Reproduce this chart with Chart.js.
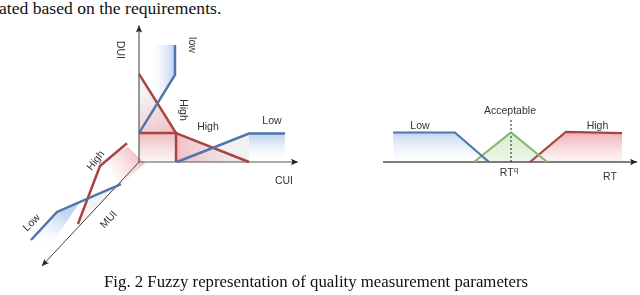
<!DOCTYPE html>
<html>
<head>
<meta charset="utf-8">
<script src="https://cdn.jsdelivr.net/npm/chart.js@4.4.0/dist/chart.umd.min.js"></script>
<style>
  html, body { margin: 0; padding: 0; background: #fff; width: 640px; height: 295px; overflow: hidden; position: relative; }
  canvas { position: absolute; }
  .t { position: absolute; font-family: "Liberation Serif", "Times New Roman", serif; font-size: 16.8px; line-height: 16px; color: #111; white-space: nowrap; }
  .l { position: absolute; font-family: "Liberation Sans", Arial, sans-serif; font-size: 10.5px; line-height: 12px; color: #333; white-space: nowrap; transform: translate(-50%, -50%); }
</style>
</head>
<body>
<div class="t" style="left:-1px;top:0px;font-size:17.6px">ated based on the requirements.</div>

<canvas id="left" width="300" height="260" style="left:0;top:20px"></canvas>
<canvas id="right" width="257" height="90" style="left:383px;top:100px"></canvas>

<!-- left diagram labels -->
<div class="l" style="left:121px;top:50px;transform:translate(-50%,-50%) rotate(90deg)">DUI</div>
<div class="l" style="left:193px;top:45px;transform:translate(-50%,-50%) rotate(90deg)">low</div>
<div class="l" style="left:183.5px;top:110px;transform:translate(-50%,-50%) rotate(90deg)">High</div>
<div class="l" style="left:208px;top:126px">High</div>
<div class="l" style="left:272px;top:119.5px">Low</div>
<div class="l" style="left:284px;top:180px">CUI</div>
<div class="l" style="left:95px;top:160px;transform:translate(-50%,-50%) rotate(-52deg)">High</div>
<div class="l" style="left:31px;top:222px;transform:translate(-50%,-50%) rotate(-45deg)">Low</div>
<div class="l" style="left:108px;top:219px;transform:translate(-50%,-50%) rotate(-48deg)">MUI</div>

<!-- right chart labels -->
<div class="l" style="left:420px;top:125px">Low</div>
<div class="l" style="left:510px;top:109.5px">Acceptable</div>
<div class="l" style="left:597.5px;top:125px">High</div>
<div class="l" style="left:509px;top:172px">RT<sup style="font-size:8px;vertical-align:4px;line-height:0">q</sup></div>
<div class="l" style="left:610px;top:176px">RT</div>

<div class="t" style="left:104px;top:274px">Fig. 2 Fuzzy representation of quality measurement parameters</div>

<script>
// ---- left diagram: membership curves on three axes (CUI, DUI, MUI), plane units ----
const duiAxis = [[0, 0], [0, 9.1]];
const cuiAxis = [[0, 0], [10.6, 0]];
const muiAxis = [[0, 0], [-6.47, -6.93]];

const duiLow  = [[2.4, 7.8], [2.4, 5.8], [0, 1.93]];
const duiHigh = [[0, 5.87], [2.47, 1.93]];
const cuiHigh = [[2.47, 1.93], [7.33, 0]];
const highLevel = [[0, 1.93], [2.47, 1.93], [2.47, 0]];
const cuiLow  = [[2.53, 0], [7.33, 1.9], [9.73, 1.9]];
const muiHigh = [[-0.8, 1.25], [-2.6, -0.27], [-4.07, -4.13]];
const muiLow  = [[-1.2, -1.47], [-5.47, -3.33], [-7.2, -5.2]];

// shaded areas under the curves
const duiLowArea  = [[0.67, 7.8], [2.4, 7.8], [2.4, 5.8], [0.67, 3.0]];
const duiHighArea = [[0, 5.87], [2.47, 1.93], [0, 1.93]];
const cornerArea  = [[0, 1.93], [2.47, 1.93], [2.47, 0], [0, 0]];
const cuiHighArea = [[2.47, 1.93], [7.33, 0], [2.47, 0]];
const cuiGrayArea = [[2.53, 0], [7.33, 1.9], [7.33, 0]];
const cuiLowArea  = [[7.33, 1.9], [9.73, 1.9], [9.73, 0.1], [7.33, 0.1]];
const muiHighArea = [[-2.4, 0.13], [-0.73, 1], [0.4, -0.1], [-1.2, -1.47]];
const muiGrayArea = [[-3.4, -2.27], [-1.2, -1.47], [-3.93, -4.27]];
const muiLowArea  = [[-7.2, -5.2], [-5.47, -3.33], [-3.93, -2.67], [-5.93, -5.6]];

// ---- right chart: response time membership ----
const rtAxis = [[0, 0], [10, 0]];
const rtLow  = [[0.4, 1], [2.83, 1], [4.17, 0]];
const rtAcceptable = [[3.58, 0], [5.04, 1], [6.46, 0]];
const rtHigh = [[5.79, 0], [7.2, 1.02], [9.41, 0.98]];
const rtQ = 5.04;
const rtQTop = 1.49;

const BLUE = '#4f76aa', RED = '#a84442', GREEN = '#86b86f', AXIS = '#3a3a3a';

const xy = arr => arr.map(p => ({ x: p[0], y: p[1] }));
const line = (arr, color, width, extra) => Object.assign({
  data: xy(arr), showLine: true, pointRadius: 0, borderColor: color,
  borderWidth: width, fill: false, tension: 0, clip: false, borderJoinStyle: 'miter'
}, extra || {});

// fill polygons through the chart scales, with linear gradients
const areaPlugin = {
  id: 'areas',
  beforeDatasetsDraw(chart, args, opts) {
    const { ctx, scales: { x, y } } = chart;
    const P = p => [x.getPixelForValue(p[0]), y.getPixelForValue(p[1])];
    (opts.list || []).forEach(a => {
      const a0 = P(a.g[0]), a1 = P(a.g[1]);
      const g = ctx.createLinearGradient(a0[0], a0[1], a1[0], a1[1]);
      g.addColorStop(0, a.c[0]);
      g.addColorStop(1, a.c[1]);
      ctx.save();
      ctx.beginPath();
      a.pts.forEach((p, i) => { const q = P(p); i ? ctx.lineTo(q[0], q[1]) : ctx.moveTo(q[0], q[1]); });
      ctx.closePath();
      ctx.fillStyle = g;
      ctx.fill();
      ctx.restore();
    });
  }
};

// arrow heads at axis ends
const arrowPlugin = {
  id: 'arrows',
  afterDatasetsDraw(chart, args, opts) {
    const { ctx, scales: { x, y } } = chart;
    (opts.axes || []).forEach(ax => {
      const a = ax[ax.length - 2], b = ax[ax.length - 1];
      const x0 = x.getPixelForValue(a[0]), y0 = y.getPixelForValue(a[1]);
      const x1 = x.getPixelForValue(b[0]), y1 = y.getPixelForValue(b[1]);
      const ang = Math.atan2(y1 - y0, x1 - x0);
      const len = 7, w = 3.2;
      ctx.save();
      ctx.translate(x1, y1);
      ctx.rotate(ang);
      ctx.beginPath();
      ctx.moveTo(0, 0);
      ctx.lineTo(-len, -w);
      ctx.lineTo(-len + 1.5, 0);
      ctx.lineTo(-len, w);
      ctx.closePath();
      ctx.fillStyle = '#222';
      ctx.fill();
      ctx.restore();
    });
  }
};

const baseOptions = (xmin, xmax, ymin, ymax, areas, axes) => ({
  responsive: false,
  animation: false,
  events: [],
  layout: { padding: 0 },
  plugins: {
    legend: { display: false },
    tooltip: { enabled: false },
    areas: { list: areas },
    arrows: { axes: axes }
  },
  scales: {
    x: { type: 'linear', display: false, min: xmin, max: xmax },
    y: { type: 'linear', display: false, min: ymin, max: ymax }
  }
});

// left: 1 unit = 15px, origin at page (139,162)
new Chart(document.getElementById('left'), {
  type: 'scatter',
  plugins: [areaPlugin, arrowPlugin],
  data: {
    datasets: [
      line(duiLow, BLUE, 2.5),
      line(cuiLow, BLUE, 2.5),
      line(muiLow, BLUE, 2.5),
      line(duiHigh, RED, 2.5),
      line(cuiHigh, RED, 2.5),
      line(highLevel, RED, 2.5),
      line(muiHigh, RED, 2.5),
      line(duiAxis, AXIS, 1),
      line(cuiAxis, '#555', 1),
      line(muiAxis, '#444', 1)
    ]
  },
  options: baseOptions(-139 / 15, 161 / 15, -118 / 15, 142 / 15, [
    { pts: duiLowArea, g: [[0.67, 6], [2.4, 6]], c: ['rgba(255,255,255,0)', 'rgba(172,200,234,0.85)'] },
    { pts: duiHighArea, g: [[0, 4.5], [1.8, 1.93]], c: ['rgba(243,243,243,0.9)', 'rgba(238,190,195,0.9)'] },
    { pts: cornerArea, g: [[0, 1.93], [0, 0]], c: ['rgba(236,178,184,0.9)', 'rgba(250,240,240,0.6)'] },
    { pts: cuiGrayArea, g: [[2.5, 0], [7.33, 0]], c: ['rgba(240,240,240,0.9)', 'rgba(240,240,240,0.9)'] },
    { pts: cuiHighArea, g: [[2.47, 1], [7.33, 1]], c: ['rgba(236,180,186,0.85)', 'rgba(240,236,236,0.5)'] },
    { pts: cuiLowArea, g: [[8, 1.9], [8, 0.1]], c: ['rgba(182,206,236,0.95)', 'rgba(255,255,255,0.2)'] },
    { pts: muiGrayArea, g: [[-1.2, -1.47], [-3.9, -4.2]], c: ['rgba(238,238,238,0.9)', 'rgba(238,238,238,0.6)'] },
    { pts: muiHighArea, g: [[0.2, 0.6], [-2, -0.9]], c: ['rgba(238,170,176,0.9)', 'rgba(255,240,240,0.3)'] },
    { pts: muiLowArea, g: [[-5.2, -3.3], [-6.1, -5.6]], c: ['rgba(186,208,238,0.9)', 'rgba(255,255,255,0.3)'] }
  ], [duiAxis, cuiAxis, muiAxis])
});

// right: x = RT, y = membership degree
new Chart(document.getElementById('right'), {
  type: 'scatter',
  plugins: [areaPlugin, arrowPlugin],
  data: {
    datasets: [
      line(rtLow, BLUE, 2.2),
      line(rtAcceptable, GREEN, 2.2),
      line(rtHigh, RED, 2.2),
      line([[rtQ, 0], [rtQ, rtQTop]], '#222', 1, { borderDash: [2, 2] }),
      line(rtAxis, '#555', 1.5)
    ]
  },
  options: baseOptions(0, 257 / 25.4, -28 / 29.5, 62 / 29.5, [
    { pts: rtLow.concat([[0.4, 0]]), g: [[1, 1], [1, 0]], c: ['rgba(184,208,238,0.85)', 'rgba(255,255,255,0.3)'] },
    { pts: rtAcceptable, g: [[5, 1], [5, 0]], c: ['rgba(186,222,172,0.6)', 'rgba(220,238,212,0.5)'] },
    { pts: rtHigh.concat([[9.41, 0]]), g: [[8, 1], [8, 0]], c: ['rgba(240,166,172,0.9)', 'rgba(252,232,234,0.5)'] }
  ], [rtAxis])
});
</script>
</body>
</html>
